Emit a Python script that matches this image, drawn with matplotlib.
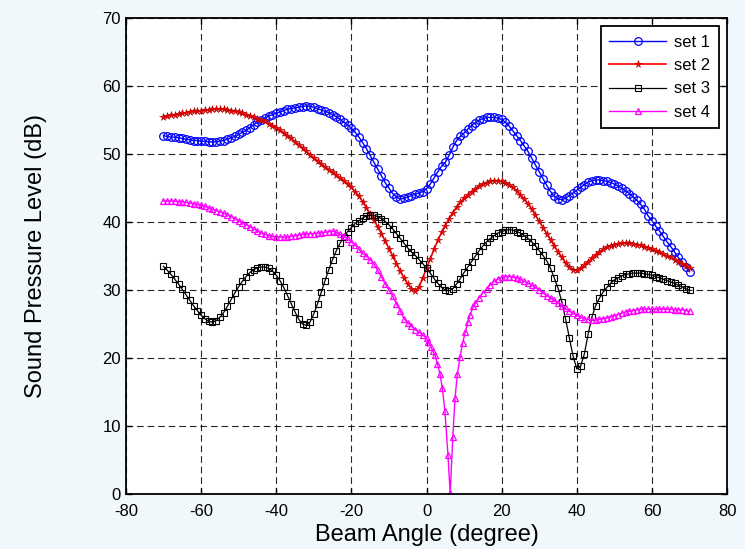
import matplotlib
matplotlib.use('Agg')
import matplotlib.pyplot as plt
import numpy as np

plt.rcParams['font.family'] = ['Liberation Sans', 'DejaVu Sans']
plt.rcParams['axes.unicode_minus'] = False  # plain hyphen like the original

# beam angles (degrees), 1 degree step for the smooth parts
ANGLES = list(range(-70, 71))

SET1 = [52.7, 52.6, 52.5, 52.5, 52.4, 52.3, 52.2, 52.1, 52.0, 52.0,
        51.9, 51.9, 51.8, 51.8, 51.8, 51.9, 52.0, 52.2, 52.4, 52.6,
        52.9, 53.2, 53.5, 53.9, 54.3, 54.7, 55.0, 55.3, 55.6, 55.8,
        56.0, 56.2, 56.4, 56.6, 56.7, 56.8, 56.9, 57.0, 57.1, 57.0,
        56.9, 56.7, 56.5, 56.3, 56.1, 55.8, 55.5, 55.1, 54.7, 54.3,
        53.8, 53.2, 52.5, 51.7, 50.8, 49.8, 48.8, 47.8, 46.8, 45.8,
        45.0, 44.2, 43.7, 43.4, 43.5, 43.7, 43.9, 44.1, 44.3, 44.5,
        44.9, 45.6, 46.5, 47.4, 48.2, 48.8, 49.8, 51.0, 52.0, 52.6,
        53.1, 53.7, 54.2, 54.6, 55.0, 55.2, 55.4, 55.4, 55.4, 55.3,
        55.1, 54.7, 54.1, 53.4, 52.7, 52.0, 51.2, 50.4, 49.4, 48.4,
        47.4, 46.4, 45.4, 44.5, 43.8, 43.4, 43.3, 43.5, 43.9, 44.3,
        44.7, 45.1, 45.5, 45.9, 46.1, 46.2, 46.2, 46.1, 46.0, 45.8,
        45.6, 45.3, 45.0, 44.6, 44.2, 43.7, 43.2, 42.6, 41.9, 40.9,
        40.2, 39.4, 38.7, 37.9, 37.1, 36.4, 35.6, 34.8, 34.1, 33.4,
        32.7]

SET2 = [55.4, 55.6, 55.7, 55.8, 55.9, 56.0, 56.1, 56.2, 56.3, 56.3,
        56.4, 56.5, 56.5, 56.6, 56.6, 56.6, 56.6, 56.5, 56.4, 56.3,
        56.2, 56.0, 55.8, 55.6, 55.4, 55.2, 55.0, 54.8, 54.5, 54.2,
        53.9, 53.5, 53.1, 52.7, 52.3, 51.8, 51.4, 50.9, 50.4, 49.9,
        49.4, 49.0, 48.5, 48.1, 47.7, 47.3, 46.9, 46.5, 46.1, 45.6,
        45.1, 44.5, 43.8, 43.0, 42.1, 41.2, 40.3, 39.3, 38.3, 37.2,
        36.1, 35.0, 33.9, 32.8, 31.8, 30.9, 30.2, 29.9, 30.5, 31.8,
        33.2, 34.6, 36.0, 37.3, 38.5, 39.5, 40.5, 41.4, 42.2, 42.9,
        43.5, 44.0, 44.5, 44.9, 45.3, 45.6, 45.8, 46.0, 46.1, 46.1,
        46.0, 45.8, 45.5, 45.1, 44.6, 44.0, 43.4, 42.7, 41.9, 41.0,
        40.1, 39.2, 38.3, 37.4, 36.5, 35.6, 34.8, 34.0, 33.4, 33.0,
        32.9, 33.2, 33.7, 34.2, 34.7, 35.2, 35.6, 36.0, 36.3, 36.5,
        36.7, 36.8, 36.9, 36.9, 36.9, 36.8, 36.7, 36.6, 36.4, 36.2,
        36.0, 35.8, 35.6, 35.3, 35.0, 34.8, 34.5, 34.2, 33.9, 33.6,
        33.3]

SET3 = [33.5, 32.9, 32.3, 31.6, 30.9, 30.1, 29.3, 28.5, 27.7, 27.0,
        26.3, 25.8, 25.4, 25.3, 25.5, 26.0, 26.7, 27.6, 28.6, 29.6,
        30.5, 31.3, 32.0, 32.6, 33.0, 33.3, 33.4, 33.4, 33.2, 32.8,
        32.2, 31.4, 30.4, 29.2, 28.0, 26.8, 25.7, 25.0, 24.8, 25.3,
        26.5, 28.0, 29.7, 31.4, 33.0, 34.5, 35.8, 36.9, 37.8, 38.6,
        39.2, 39.8, 40.2, 40.6, 40.9, 41.0, 41.0, 40.8, 40.5, 40.1,
        39.6, 39.0, 38.3, 37.6, 36.9, 36.2, 35.6, 35.1, 34.5, 33.9,
        33.2, 32.5, 31.7, 31.0, 30.4, 30.0, 29.9, 30.2, 30.9, 31.7,
        32.6, 33.4, 34.2, 35.0, 35.8, 36.5, 37.1, 37.6, 38.0, 38.4,
        38.6, 38.8, 38.9, 38.8, 38.6, 38.4, 38.0, 37.6, 37.1, 36.5,
        35.8, 35.1, 34.3, 33.2, 31.8, 30.3, 28.3, 25.8, 23.0, 20.3,
        18.4, 18.8, 20.6, 23.5, 26.0, 27.7, 28.8, 29.7, 30.4, 31.0,
        31.5, 31.8, 32.1, 32.3, 32.4, 32.5, 32.5, 32.5, 32.4, 32.3,
        32.2, 32.0, 31.8, 31.6, 31.4, 31.2, 31.0, 30.7, 30.5, 30.2,
        30.0]

ANGLES4 = (list(range(-70, 1))
           + [0.5, 1.1, 1.7, 2.3, 2.9, 3.6, 4.2, 4.9, 5.7, 6.3, 7.0, 7.6,
              8.2, 8.9, 9.6, 10.3, 11.0, 11.6, 12.5]
           + list(range(13, 71)))

SET4 = [43.1, 43.1, 43.1, 43.1, 43.0, 43.0, 42.9, 42.8, 42.7, 42.6,
        42.5, 42.3, 42.1, 41.9, 41.7, 41.5, 41.3, 41.1, 40.8, 40.5,
        40.2, 39.9, 39.6, 39.3, 39.0, 38.7, 38.4, 38.2, 38.0, 37.9,
        37.8, 37.8, 37.8, 37.8, 37.9, 38.0, 38.1, 38.2, 38.2, 38.3,
        38.3, 38.4, 38.4, 38.5, 38.6, 38.7, 38.5, 38.2, 37.9, 37.5,
        37.1, 36.6, 36.0, 35.4, 35.0, 34.5, 33.8, 32.9, 31.9, 30.9,
        30.0, 29.1, 28.0, 26.9, 25.8, 25.2, 24.7, 24.2, 23.8, 23.4,
        22.9,
        22.3, 21.7, 21.0, 20.4, 19.2, 17.6, 15.6, 12.2, 5.8, 0.1, 8.4, 14.2,
        17.6, 20.1, 22.2, 23.8, 25.3, 26.4, 27.6,
        28.1, 28.9, 29.6, 30.2, 30.8, 31.3, 31.6, 31.9, 32.0, 32.0,
        31.9, 31.8, 31.6, 31.3, 31.0, 30.7, 30.4, 30.0, 29.6, 29.2,
        28.9, 28.5, 28.1, 27.7, 27.3, 26.9, 26.6, 26.3, 26.0, 25.8,
        25.7, 25.6, 25.6, 25.7, 25.8, 25.9, 26.1, 26.2, 26.4, 26.6,
        26.8, 26.9, 27.0, 27.1, 27.2, 27.2, 27.2, 27.2, 27.2, 27.2,
        27.2, 27.2, 27.2, 27.1, 27.1, 27.1, 27.0, 26.9]

LABELS = ["set 1", "set 2", "set 3", "set 4"]
X_TICKS = [-80, -60, -40, -20, 0, 20, 40, 60, 80]
Y_TICKS = [0, 10, 20, 30, 40, 50, 60, 70]

BG_COLOR = "#f1f8fb"


def main():
    fig = plt.figure(figsize=(7.45, 5.49), dpi=100, facecolor=BG_COLOR)
    ax = fig.add_axes([0.169, 0.100, 0.807, 0.867])
    ax.set_facecolor("white")

    ax.plot(ANGLES, SET1, color="#0000ff", lw=1, marker="o", ms=5.5,
            mfc="none", mec="#0000ff", mew=0.9, label=LABELS[0])
    ax.plot(ANGLES, SET2, color="#ff0000", lw=1.2, marker="*", ms=5.5,
            mfc="#ff0000", mec="#b00000", mew=0.4, label=LABELS[1])
    ax.plot(ANGLES, SET3, color="k", lw=0.9, marker="s", ms=5,
            mfc="none", mec="k", mew=0.8, label=LABELS[2])
    ax.plot(ANGLES4, SET4, color="#ff00ff", lw=1, marker="^", ms=4.5,
            mfc="none", mec="#ff00ff", mew=0.9, label=LABELS[3])

    ax.set_xlim(-80, 80)
    ax.set_ylim(0, 70)
    ax.set_xticks(X_TICKS)
    ax.set_yticks(Y_TICKS)
    ax.tick_params(direction="in", top=True, right=True, length=4,
                   width=1, labelsize=12, colors="k")
    ax.tick_params(axis="x", pad=7)
    ax.grid(True, color="k", lw=0.8, linestyle=(0, (6, 3.5)), alpha=0.85)
    for spine in ax.spines.values():
        spine.set_linewidth(1.3)
        spine.set_color("k")

    ax.set_xlabel("Beam Angle (degree)", fontsize=17, labelpad=4)
    ax.set_ylabel("Sound Pressure Level (dB)", fontsize=17, labelpad=40)

    leg = ax.legend(loc="upper right", fontsize=12, handlelength=3.4,
                    labelspacing=0.5, borderaxespad=0.5, fancybox=False,
                    framealpha=1, edgecolor="k", borderpad=0.5,
                    handletextpad=0.5)
    leg.get_frame().set_linewidth(1.3)

    fig.savefig("out.png", dpi=100, facecolor=BG_COLOR)
    plt.close(fig)


if __name__ == "__main__":
    main()
